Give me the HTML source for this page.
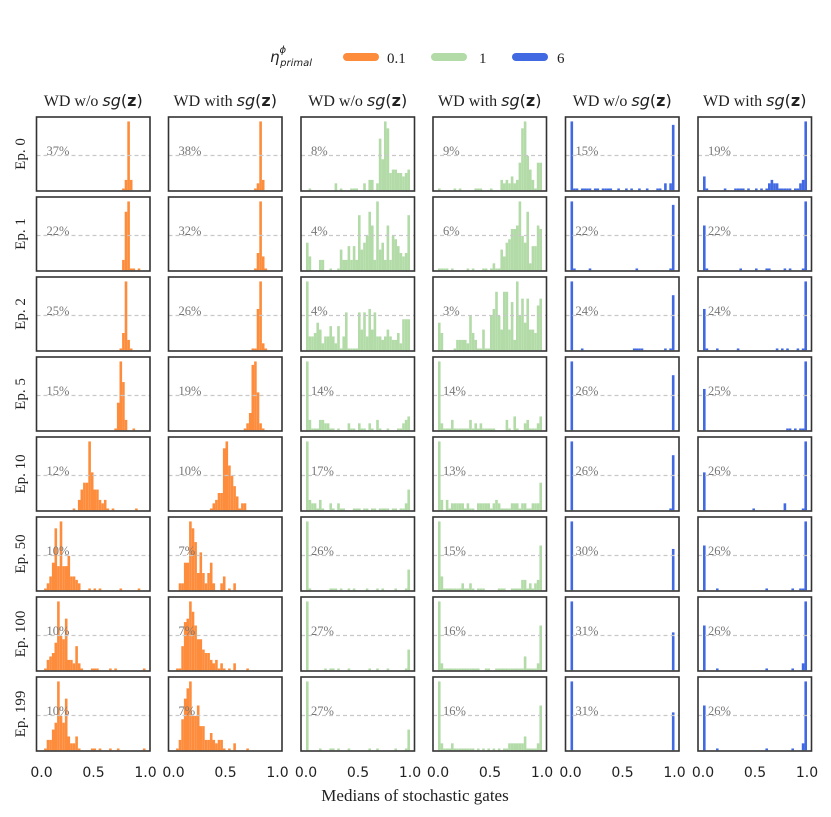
<!DOCTYPE html>
<html><head><meta charset="utf-8"><style>
body{margin:0;background:#fff}
svg{display:block}
</style></head><body>
<svg id="chart" width="831" height="817" viewBox="0 0 831 817" xmlns="http://www.w3.org/2000/svg">
<g>
  <text x="270" y="62" font-family="DejaVu Sans, sans-serif" font-style="italic" font-size="15" fill="#222">η<tspan font-size="10" dy="-9">ϕ</tspan><tspan font-size="10" dx="-6" dy="13">primal</tspan></text>
  <line x1="347" y1="57" x2="375" y2="57" stroke="#fd8d3c" stroke-width="8" stroke-linecap="round"/>
  <text x="387" y="63" font-family="Liberation Serif, serif" font-size="15" fill="#222">0.1</text>
  <line x1="435" y1="57" x2="463" y2="57" stroke="#b2dba8" stroke-width="8" stroke-linecap="round"/>
  <text x="479" y="63" font-family="Liberation Serif, serif" font-size="15" fill="#222">1</text>
  <line x1="516" y1="57" x2="544" y2="57" stroke="#4169e1" stroke-width="8" stroke-linecap="round"/>
  <text x="557" y="63" font-family="Liberation Serif, serif" font-size="15" fill="#222">6</text>
</g>
<text x="415" y="801" text-anchor="middle" font-family="Liberation Serif, serif" font-size="17" fill="#222">Medians of stochastic gates</text>
<g id="panels"></g>
</svg>
<script>
const colLefts = [36.5, 168.5, 301, 433, 565.5, 698];
const rowLabels = ["Ep. 0","Ep. 1","Ep. 2","Ep. 5","Ep. 10","Ep. 50","Ep. 100","Ep. 199"];
const colTitles = ["WD w/o ","WD with ","WD w/o ","WD with ","WD w/o ","WD with "];
const colColors = ["#fd8d3c","#fd8d3c","#b2dba8","#b2dba8","#4169e1","#4169e1"];
const xTicks = [0, 0.5, 1];
const xTickLabels = ["0.0","0.5","1.0"];
const pct1 = [37,22,25,15,12,10,10,10];
const pct2 = [38,32,26,19,10,7,7,7];
const pct3 = [8,4,4,14,17,26,27,27];
const pct4 = [9,6,3,14,13,15,16,16];
const pct5 = [15,22,24,26,26,30,31,31];
const pct6 = [19,22,24,25,26,26,26,26];
// histogram bin heights (40 bins over [0,1]); digits 0-9 then A..K = 10..20
const hist1 = [
"0000000000 0000000000 0000000000 013K300000",
"0000000000 0000000000 0000000000 03HK110100",
"0000000000 0000000000 0000000000 15K3100000",
"0000000000 0000000000 0000000018 KE30010000",
"0000000000 00103688KB 6632310100 0000001000",
"01248I7K77 A443200010 1010000000 1000000100",
"013458KA9F 3327210001 1100001010 0000000001",
"013368KA8F 4224100001 1010001001 0000000001"];
const hist2 = [
"0000000000 0000000000 0000000000 012K300000",
"0000000000 0000000000 0000000000 015K410000",
"0000000000 0000000000 0000000000 11CK210000",
"0000000000 0000000000 0000000125 JKB2100000",
"0000000000 000012355I KDA7412200 0000000000",
"002288KIE5 B525820024 0102000000 0000000000",
"0117EFKHD9 9655323121 0102000010 0000000000",
"0139FIKAAD 7733532331 0102000010 0000000000"];
const hist3 = [
"0100000000 0201000111 00203302F9 KI56655456",
"8400033001 0016337373 G68AHD3K68 3D3A97545G",
"K445862447 42714B1111 B6B4C6B443 4643352999",
"K311133221 1010002110 2110210310 0100011234",
"K322131002 1021100011 1011011011 1101101126",
"K100000001 1101001010 0001000101 0000100016",
"K000000101 1010001000 0000100100 0100000016",
"K000010001 1010001000 0000100100 0000100016"];
const hist4 = [
"1000001010 0000111000 1000323242 38IKA63188",
"1111010000 0101000110 12116489CC DKA8H277DC",
"8500001333 32A5311611 ACHA6HH6E3 KAF8F665DF",
"K211131111 1131212111 1100003104 1002311124",
"K303122222 1211022222 1232111122 2122112228",
"K411111112 1121011100 0001110011 113312123D",
"K211111111 1111110011 0011111111 111411112D",
"K211121111 1111010101 0101011222 222411112D"];
const hist5 = [
"K110111101 1011110010 0101001001 000110202J",
"K100000100 0000000000 0000010000 000000001J",
"K000100000 0000000000 0000111100 000000101G",
"K000000000 0000000000 0000000000 000000000G",
"K000000000 0000000000 0000000000 000000001G",
"K000000000 0000000000 0000000000 000000000C",
"K000000000 0000000000 0000000000 000000000B",
"K000000000 0000000000 0000000000 000000000B"];
const hist6 = [
"4100000010 0011110100 1010123221 111101123K",
"D100000000 0000100000 1000110000 010100001K",
"C100010000 0001000000 0000000010 101000101K",
"C000000000 0000000000 0000000000 001101011K",
"B000000000 0000000001 0000000000 020000001K",
"D000010000 0000000000 0000100000 000010011K",
"D000010000 0000000000 0000100000 000010002K",
"D000010000 0000000000 0000100000 000010002K"];
const hists = [hist1,hist2,hist3,hist4,hist5,hist6];
const pcts = [pct1,pct2,pct3,pct4,pct5,pct6];

const NS = "http://www.w3.org/2000/svg";
const CODES = "0123456789ABCDEFGHIJK";
const PW = 113.5, PH = 74, TOP0 = 117, RSTEP = 80;
function parseHist(s){ return s.replace(/ /g,"").split("").map(c => { const v = CODES.indexOf(c); return v === 1 ? 0.5 : v; }); }
function xScale(left, v){ return left + 5 + v * 104; }
function yScale(top, v){ return top + PH - 0.8 - (v / 20) * (PH - 2) * 0.955; }
function mk(tag, attrs, parent){ const e = document.createElementNS(NS, tag); for (const k in attrs) e.setAttribute(k, attrs[k]); parent.appendChild(e); return e; }

const root = document.getElementById("panels");
for (let c = 0; c < 6; c++) {
  const left = colLefts[c];
  const t = mk("text", {x: left + PW/2, y: 106, "text-anchor": "middle", "font-family": "Liberation Serif, serif", "font-size": "16", fill: "#222"}, root);
  
  
  t.appendChild(document.createTextNode(colTitles[c]));
  const ts = mk("tspan", {"font-family": "DejaVu Sans, sans-serif", "font-style": "italic"}, t);
  ts.textContent = "sg";
  const ts2 = mk("tspan", {"font-family": "DejaVu Sans, sans-serif"}, t);
  ts2.textContent = "(";
  const ts3 = mk("tspan", {"font-family": "DejaVu Sans, sans-serif", "font-weight": "bold"}, t);
  ts3.textContent = "z";
  const ts4 = mk("tspan", {"font-family": "DejaVu Sans, sans-serif"}, t);
  ts4.textContent = ")";

  for (let r = 0; r < 8; r++) {
    const top = TOP0 + r * RSTEP;
    const g = mk("g", {}, root);
    
    
    const vals = parseHist(hists[c][r]);
    vals.forEach((v, k) => {
      if (v <= 0) return;
      const x0 = xScale(left, k/40), x1 = xScale(left, (k+1)/40);
      const y = yScale(top, v);
      const b = mk("rect", {x: x0, y: y, width: x1 - x0, height: yScale(top, 0) - y, fill: colColors[c]}, g);
      
      
    });
    const ly = top + 38.5;
    const dl = mk("line", {x1: left, y1: ly, x2: left + PW, y2: ly, stroke: "#c8c8c8", "stroke-width": 1.2, "stroke-dasharray": "4,3"}, g);
    
    
    const pt = mk("text", {x: left + 10, y: top + 38, "font-family": "Liberation Serif, serif", "font-size": "12.5", fill: "#777"}, g);
    
    
    pt.textContent = pcts[c][r] + "%";
    const fr = mk("rect", {x: left, y: top, width: PW, height: PH, fill: "none", stroke: "#333", "stroke-width": 1.6}, g);
    
    
    if (c === 0) {
      const cy = top + PH/2;
      const rl = mk("text", {x: 25, y: cy, "text-anchor": "middle", transform: "rotate(-90 25 " + cy + ")", "font-family": "Liberation Serif, serif", "font-size": "15", fill: "#222"}, root);
      
      
      rl.textContent = rowLabels[r];
    }
  }
  xTicks.forEach((v, i) => {
    const tl = mk("text", {x: xScale(left, v), y: 777, "text-anchor": "middle", "font-family": "DejaVu Sans, sans-serif", "font-size": "14", fill: "#222"}, root);
    
    
    tl.textContent = xTickLabels[i];
  });
}
</script>
</body></html>
